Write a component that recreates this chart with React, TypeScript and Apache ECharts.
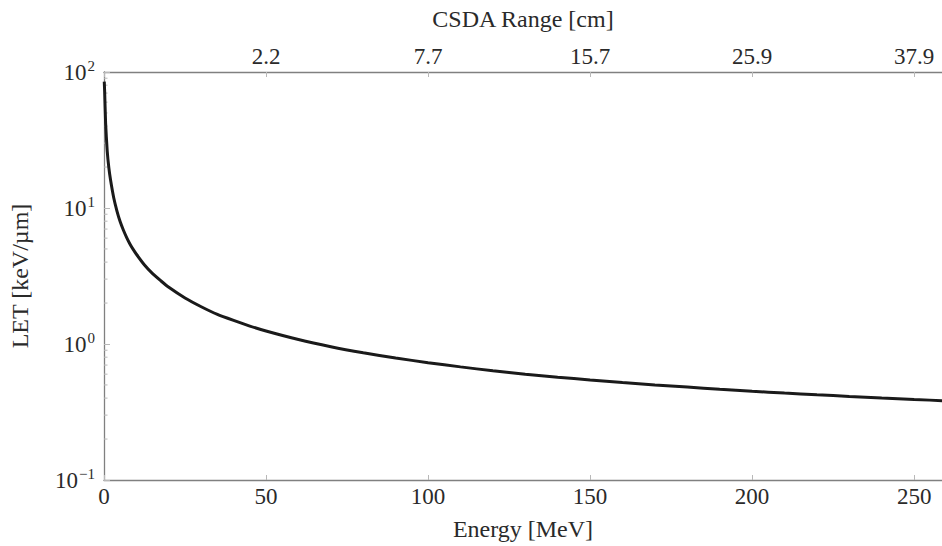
import React, { useEffect, useRef } from "react";
import * as echarts from "echarts";

// Proton energy [MeV] and LET in water [keV/µm]
const energy = [0.08, 0.2, 0.5, 1, 1.5, 2, 3, 4, 5, 6, 7, 8, 9, 10, 12.5, 15, 17.5, 20, 25, 30, 35, 40, 45, 50, 60, 70, 80, 90, 100, 110, 120, 130, 140, 150, 160, 170, 180, 190, 200, 210, 220, 230, 240, 250, 260];
const letValues = [85, 72, 42, 26.1, 19.7, 16.2, 11.9, 9.5, 7.91, 6.86, 6.06, 5.44, 4.96, 4.57, 3.81, 3.29, 2.92, 2.61, 2.18, 1.88, 1.65, 1.49, 1.355, 1.245, 1.078, 0.956, 0.863, 0.789, 0.729, 0.679, 0.635, 0.6, 0.57, 0.5445, 0.5215, 0.5005, 0.482, 0.4647, 0.449, 0.4355, 0.4232, 0.4117, 0.401, 0.391, 0.382];

// Top axis: CSDA range at given energies
const csdaEnergy = [50, 100, 150, 200, 250];
const csdaLabels = ["2.2", "7.7", "15.7", "25.9", "37.9"];

// Log-axis minor tick values
const minorTicks = [0.2, 0.3, 0.4, 0.5, 0.6, 0.7, 0.8, 0.9, 2, 3, 4, 5, 6, 7, 8, 9, 20, 30, 40, 50, 60, 70, 80, 90];

const FONT = "Liberation Serif";
const AXIS_COLOR = "#808080";
const TICK_COLOR = "#b8b8b8";
const TEXT_COLOR = "#2a2a2a";

export default function App() {
  const ref = useRef<HTMLDivElement>(null);
  useEffect(() => {
    if (!ref.current) return;
    const chart = echarts.init(ref.current, null, { renderer: "svg" });
    const sup = (v: number) => {
      const e = Math.round(Math.log10(v));
      const s = e < 0 ? "\u2212" + Math.abs(e) : String(e);
      return `{b|10}{s|${s}}`;
    };
    const labelStyle = { fontFamily: FONT, fontSize: 23, color: TEXT_COLOR };
    const nameStyle = { fontFamily: FONT, fontSize: 24, color: TEXT_COLOR };
    chart.setOption({
      animation: false,
      backgroundColor: "#ffffff",
      grid: { left: 104, top: 72, right: 0, bottom: 66 },
      xAxis: [
        {
          type: "value",
          min: 0,
          max: 258.6,
          interval: 50,
          position: "bottom",
          name: "Energy [MeV]",
          nameLocation: "middle",
          nameGap: 37,
          nameTextStyle: nameStyle,
          axisLine: { show: true, lineStyle: { color: AXIS_COLOR, width: 1.3 } },
          axisTick: { show: true, inside: true, length: 5, lineStyle: { color: TICK_COLOR } },
          axisLabel: {
            ...labelStyle,
            margin: 5,
            showMaxLabel: false,
            formatter: (v: number) => (v % 50 === 0 ? String(v) : ""),
          },
          splitLine: { show: false },
        },
        {
          type: "value",
          min: 0,
          max: 258.6,
          interval: 50,
          position: "top",
          name: "CSDA Range [cm]",
          nameLocation: "middle",
          nameGap: 41,
          nameTextStyle: nameStyle,
          axisLine: { show: true, lineStyle: { color: AXIS_COLOR, width: 1.3 } },
          axisTick: { show: true, inside: true, length: 5, lineStyle: { color: TICK_COLOR } },
          axisLabel: {
            ...labelStyle,
            margin: 4,
            showMaxLabel: false,
            formatter: (v: number) => {
              const i = csdaEnergy.indexOf(v);
              return i >= 0 ? csdaLabels[i] : "";
            },
          },
          splitLine: { show: false },
        },
      ],
      yAxis: {
        type: "log",
        logBase: 10,
        min: 0.1,
        max: 100,
        name: "LET [keV/\u00b5m]",
        nameLocation: "middle",
        nameGap: 72,
        nameRotate: 90,
        nameTextStyle: nameStyle,
        axisLine: { show: true, lineStyle: { color: AXIS_COLOR, width: 1.3 } },
        axisTick: { show: true, inside: true, length: 6, lineStyle: { color: TICK_COLOR } },
        minorTick: { show: false },
        splitLine: { show: false },
        axisLabel: {
          ...labelStyle,
          margin: 9,
          formatter: (v: number) => sup(v),
          rich: {
            b: { fontFamily: FONT, fontSize: 23, color: TEXT_COLOR },
            s: { fontFamily: FONT, fontSize: 15, color: TEXT_COLOR, verticalAlign: "top", padding: [0, 0, 12, 1] },
          },
        },
      },
      series: [
        {
          type: "line",
          xAxisIndex: 0,
          yAxisIndex: 0,
          data: energy.map((e, i) => [e, letValues[i]]),
          showSymbol: false,
          smooth: 0.2,
          lineStyle: { color: "#1a1a1a", width: 3 },
          silent: true,
          z: 3,
        },
        {
          type: "custom",
          xAxisIndex: 0,
          yAxisIndex: 0,
          silent: true,
          data: minorTicks.map((v) => [0, v]),
          renderItem: (params: any, api: any) => {
            const p = api.coord([api.value(0), api.value(1)]);
            return {
              type: "line",
              shape: { x1: p[0], y1: p[1], x2: p[0] + 3.5, y2: p[1] },
              style: { stroke: TICK_COLOR, lineWidth: 1 },
            };
          },
          z: 2,
        },
      ],
    });
    return () => chart.dispose();
  }, []);
  return (
    <div
      ref={ref}
      style={{ position: "absolute", left: 0, top: 0, width: 942, height: 546 }}
    />
  );
}
